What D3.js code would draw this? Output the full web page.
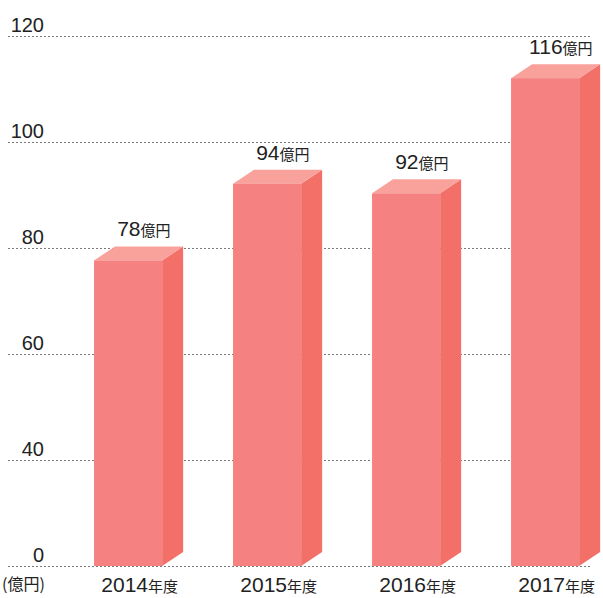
<!DOCTYPE html>
<html>
<head>
<meta charset="utf-8">
<script src="https://cdn.jsdelivr.net/npm/d3@7"></script>
<style>
  body { margin: 0; background: #fff; }
  text { font-family: "Liberation Sans", Arial, sans-serif; fill: #222; }
  .cjk { font-family: "Noto Sans CJK JP", sans-serif; }
</style>
</head>
<body>
<div id="chart"></div>
<script>
// data
const years = ['2014', '2015', '2016', '2017'];
const values = [78, 94, 92, 116];
const tickLabels = ['0', '40', '60', '80', '100', '120'];
const unit = '億円';
const yearSuffix = '年度';

const width = 603, height = 598;
const baseY = 566, topY = 36;
const depthX = 21, depthY = 14;

const svg = d3.select('#chart')
    .append('svg')
    .attr('width', width)
    .attr('height', height);

// gridlines are evenly spaced by label
const gridScale = d3.scalePoint()
    .domain(tickLabels)
    .range([baseY, topY]);

// bar heights
const yScale = d3.scaleLinear()
    .domain([14.3, 120])
    .range([baseY, baseY - 105.7 * 4.797]);

const xScale = d3.scaleBand()
    .domain(years)
    .range([58.6, 614.6])
    .paddingInner(0.51)
    .paddingOuter(0.255);

const grid = svg.append('g');
grid.selectAll('line')
    .data(tickLabels)
    .enter()
    .append('line')
    .attr('x1', 8)
    .attr('x2', 592)
    .attr('y1', d => gridScale(d) + 0.5)
    .attr('y2', d => gridScale(d) + 0.5)
    .attr('stroke', '#7a7a7a')
    .attr('stroke-width', 1)
    .attr('stroke-dasharray', '2,2');

grid.selectAll('text')
    .data(tickLabels)
    .enter()
    .append('text')
    .attr('x', 44)
    .attr('y', d => gridScale(d) - 4)
    .attr('text-anchor', 'end')
    .style('font-size', '20px')
    .text(d => d);

svg.append('text')
    .attr('class', 'cjk')
    .attr('x', 2)
    .attr('y', 590)
    .style('font-size', '16px')
    .text('(' + unit + ')');

// 3D bars
const bars = svg.selectAll('.bar')
    .data(years.map((y, i) => ({year: y, value: values[i]})))
    .enter()
    .append('g')
    .attr('class', 'bar');

bars.append('path')
    .attr('fill', '#f37068')
    .attr('d', d => {
        const x1 = xScale(d.year) + xScale.bandwidth();
        const y = yScale(d.value);
        return 'M' + x1 + ',' + baseY + 'L' + (x1 + depthX) + ',' + (baseY - depthY)
            + 'L' + (x1 + depthX) + ',' + (y - depthY) + 'L' + x1 + ',' + y + 'Z';
    });

bars.append('path')
    .attr('fill', '#f8a29b')
    .attr('d', d => {
        const x0 = xScale(d.year), x1 = x0 + xScale.bandwidth();
        const y = yScale(d.value);
        return 'M' + x0 + ',' + y + 'L' + x1 + ',' + y + 'L' + (x1 + depthX) + ',' + (y - depthY)
            + 'L' + (x0 + depthX) + ',' + (y - depthY) + 'Z';
    });

bars.append('rect')
    .attr('fill', '#f58180')
    .attr('x', d => xScale(d.year))
    .attr('y', d => yScale(d.value))
    .attr('width', xScale.bandwidth())
    .attr('height', d => baseY - yScale(d.value));

// value labels
const vl = bars.append('text')
    .attr('x', d => xScale(d.year) + xScale.bandwidth() / 2 + depthX * 0.75)
    .attr('y', d => yScale(d.value) - depthY - 10)
    .attr('text-anchor', 'middle');
vl.append('tspan')
    .style('font-size', '21px')
    .text(d => d.value);
vl.append('tspan')
    .attr('class', 'cjk')
    .style('font-size', '15px')
    .text(unit);

// year labels
const xl = bars.append('text')
    .attr('x', d => xScale(d.year) + xScale.bandwidth() / 2 + depthX * 0.55)
    .attr('y', 592)
    .attr('text-anchor', 'middle');
xl.append('tspan')
    .style('font-size', '21px')
    .text(d => d.year);
xl.append('tspan')
    .attr('class', 'cjk')
    .style('font-size', '15px')
    .text(yearSuffix);
</script>
</body>
</html>
